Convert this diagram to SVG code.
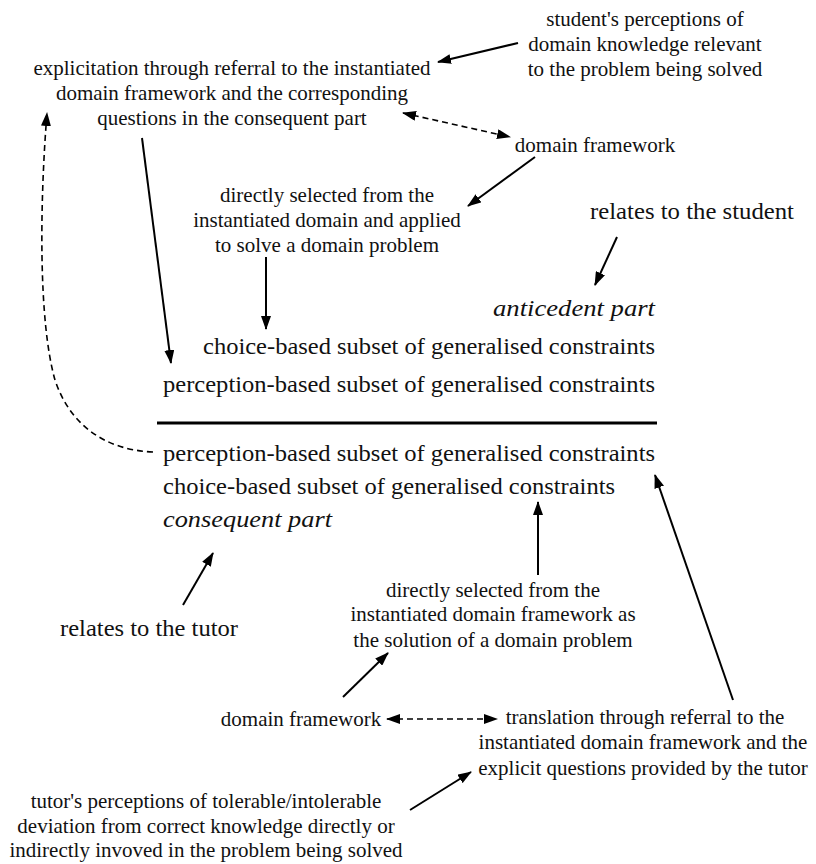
<svg xmlns="http://www.w3.org/2000/svg" width="816" height="864" viewBox="0 0 816 864">
<style>
  .s { font-family: "Liberation Serif", "Times New Roman", serif; font-size: 21px; fill: #111; text-anchor: middle; }
  .b { font-family: "Liberation Serif", "Times New Roman", serif; font-size: 23px; fill: #111; }
  .i { font-family: "Liberation Serif", "Times New Roman", serif; font-size: 24px; font-style: italic; fill: #111; }
  .c { fill: none; stroke: #000; stroke-width: 2; marker-end: url(#ah); }
  .d { fill: none; stroke: #000; stroke-width: 1.6; stroke-dasharray: 6 4; marker-end: url(#ah); }
  .dd { marker-start: url(#ah); }
</style>
<defs>
  <marker id="ah" viewBox="0 0 14 10" refX="13" refY="5" markerWidth="14" markerHeight="10" markerUnits="userSpaceOnUse" orient="auto-start-reverse">
    <path d="M0,0 L14,5 L0,10 z" fill="#000"/>
  </marker>
</defs>
<rect width="816" height="864" fill="#fff"/>

<g id="student-perceptions">
  <text class="s" x="645" y="26">student's perceptions of</text>
  <text class="s" x="645" y="51">domain knowledge relevant</text>
  <text class="s" x="645" y="76">to the problem being solved</text>
</g>
<g id="explicitation">
  <text class="s" x="232" y="75">explicitation through referral to the instantiated</text>
  <text class="s" x="232" y="100">domain framework and the corresponding</text>
  <text class="s" x="232" y="125">questions in the consequent part</text>
</g>
<g id="domain-framework-top">
  <text class="s" x="595" y="152">domain framework</text>
</g>
<g id="directly-selected-top">
  <text class="s" x="327" y="202">directly selected from the</text>
  <text class="s" x="327" y="227">instantiated domain and applied</text>
  <text class="s" x="327" y="252">to solve a domain problem</text>
</g>
<g id="relates-student">
  <text class="b" x="590" y="219" textLength="204" lengthAdjust="spacingAndGlyphs">relates to the student</text>
</g>
<g id="antecedent">
  <text class="i" x="493" y="316" textLength="162" lengthAdjust="spacingAndGlyphs">anticedent part</text>
  <text class="b" x="203" y="354" textLength="452" lengthAdjust="spacingAndGlyphs">choice-based subset of generalised constraints</text>
  <text class="b" x="163" y="392" textLength="492" lengthAdjust="spacingAndGlyphs">perception-based subset of generalised constraints</text>
</g>
<g id="divider">
  <line x1="157" y1="423" x2="657" y2="423" stroke="#000" stroke-width="3"/>
</g>
<g id="consequent">
  <text class="b" x="163" y="461" textLength="492" lengthAdjust="spacingAndGlyphs">perception-based subset of generalised constraints</text>
  <text class="b" x="163" y="494" textLength="452" lengthAdjust="spacingAndGlyphs">choice-based subset of generalised constraints</text>
  <text class="i" x="163" y="527" textLength="169" lengthAdjust="spacingAndGlyphs">consequent part</text>
</g>
<g id="relates-tutor">
  <text class="b" x="60" y="636" textLength="178" lengthAdjust="spacingAndGlyphs">relates to the tutor</text>
</g>
<g id="directly-selected-bottom">
  <text class="s" x="493" y="597">directly selected from the</text>
  <text class="s" x="493" y="621">instantiated domain framework as</text>
  <text class="s" x="493" y="647">the solution of a domain problem</text>
</g>
<g id="domain-framework-bottom">
  <text class="s" x="301" y="726">domain framework</text>
</g>
<g id="translation">
  <text class="s" x="645" y="724">translation through referral to the</text>
  <text class="s" x="643" y="749">instantiated domain framework and the</text>
  <text class="s" x="643" y="775">explicit questions provided by the tutor</text>
</g>
<g id="tutor-perceptions">
  <text class="s" x="206" y="808">tutor's perceptions of tolerable/intolerable</text>
  <text class="s" x="206" y="833">deviation from correct knowledge directly or</text>
  <text class="s" x="206" y="857">indirectly invoved in the problem being solved</text>
</g>

<g id="connectors">
  <line class="c" x1="518" y1="43" x2="438" y2="62"/>
  <line class="d dd" x1="403" y1="113" x2="510" y2="137"/>
  <line class="c" x1="535" y1="157" x2="468" y2="206"/>
  <line class="c" x1="142" y1="138" x2="171" y2="363"/>
  <path class="d" d="M153,452 C105,450 70,425 55,380 C38,320 40,200 47,113"/>
  <line class="c" x1="266" y1="257" x2="266" y2="329"/>
  <line class="c" x1="617" y1="237" x2="595" y2="285"/>
  <line class="c" x1="183" y1="605" x2="213" y2="553"/>
  <line class="c" x1="538" y1="575" x2="538" y2="502"/>
  <line class="c" x1="733" y1="700" x2="655" y2="475"/>
  <line class="c" x1="343" y1="697" x2="388" y2="653"/>
  <line class="d dd" x1="387" y1="719" x2="497" y2="719"/>
  <line class="c" x1="410" y1="810" x2="471" y2="772"/>
</g>
</svg>
